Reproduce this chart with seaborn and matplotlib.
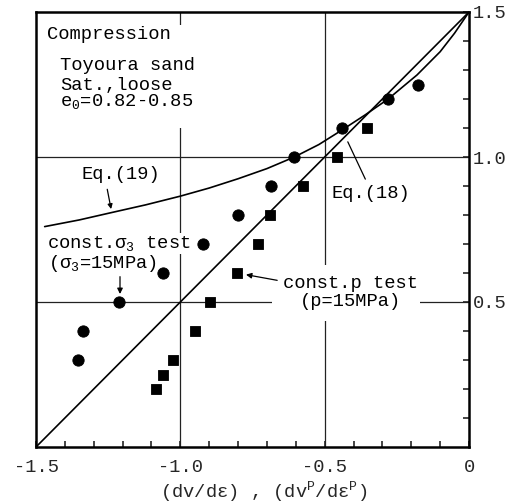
import numpy as np
import pandas as pd
import matplotlib
matplotlib.use("Agg")
import matplotlib.pyplot as plt
from matplotlib.patches import Rectangle
import seaborn as sns

# ---- data ----
circ_x = [-1.353, -1.338, -1.211, -1.059, -0.920, -0.800, -0.687, -0.605, -0.441, -0.280, -0.176]
circ_y = [0.30, 0.40, 0.50, 0.60, 0.70, 0.80, 0.90, 1.00, 1.10, 1.20, 1.25]
sq_x = [-1.085, -1.059, -1.024, -0.949, -0.898, -0.804, -0.730, -0.690, -0.576, -0.456, -0.352]
sq_y = [0.20, 0.25, 0.30, 0.40, 0.50, 0.60, 0.70, 0.80, 0.90, 1.00, 1.10]
eq18_x = [-1.5, 0.0]
eq18_y = [0.0, 1.5]
eq19_x = [-1.47, -1.35, -1.24, -1.12, -1.00, -0.90, -0.80, -0.70, -0.605, -0.52, -0.44, -0.36, -0.28, -0.18, -0.10, -0.05, 0.0]
eq19_y = [0.760, 0.783, 0.808, 0.835, 0.865, 0.893, 0.925, 0.960, 1.000, 1.043, 1.093, 1.145, 1.200, 1.283, 1.363, 1.427, 1.500]
xtick_vals = [-1.5, -1.0, -0.5, 0.0]
xtick_labels = ["-1.5", "-1.0", "-0.5", "0"]
ytick_vals = [0.5, 1.0, 1.5]
ytick_labels = ["0.5", "1.0", "1.5"]

sns.set_style("white")
plt.rcParams["font.family"] = ["Liberation Mono", "DejaVu Sans Mono"]
plt.rcParams["mathtext.fontset"] = "custom"
plt.rcParams["mathtext.rm"] = "Liberation Mono"
plt.rcParams["mathtext.it"] = "Liberation Mono"
plt.rcParams["axes.unicode_minus"] = False

fig = plt.figure(figsize=(5.09, 5.04), dpi=100)
ax = fig.add_axes([36/509, 1-447/504, 433/509, 435/504])
ax.set_xlim(-1.5, 0)
ax.set_ylim(0, 1.5)

# grid lines
for gx in [-1.0, -0.5]:
    ax.axvline(gx, color="#222222", lw=0.9, zorder=1)
for gy in [0.5, 1.0]:
    ax.axhline(gy, color="#222222", lw=0.9, zorder=1)

# white boxes behind text blocks (gaps in grid lines)
ax.add_patch(Rectangle((-1.486, 1.10), 0.57, 0.355, fc="white", ec="none", zorder=2))
ax.add_patch(Rectangle((-0.684, 0.434), 0.514, 0.195, fc="white", ec="none", zorder=2))

df18 = pd.DataFrame({"x": eq18_x, "y": eq18_y})
df19 = pd.DataFrame({"x": eq19_x, "y": eq19_y})
sns.lineplot(data=df18, x="x", y="y", color="black", lw=1.2, sort=False, estimator=None, ax=ax, zorder=3)
sns.lineplot(data=df19, x="x", y="y", color="black", lw=1.2, sort=False, estimator=None, ax=ax, zorder=3)

dfc = pd.DataFrame({"x": circ_x, "y": circ_y})
dfs = pd.DataFrame({"x": sq_x, "y": sq_y})
sns.scatterplot(data=dfc, x="x", y="y", marker="o", s=66, color="black", edgecolor="black", ax=ax, zorder=4)
sns.scatterplot(data=dfs, x="x", y="y", marker="s", s=58, color="black", edgecolor="black", ax=ax, zorder=4)

fs = 13.5
tkw = dict(fontsize=fs, zorder=5, color="black")
ax.text(-1.463, 1.423, "Compression", va="center", ha="left", **tkw)
ax.text(-1.416, 1.317, "Toyoura sand", va="center", ha="left", **tkw)
ax.text(-1.416, 1.248, "Sat.,loose", va="center", ha="left", **tkw)
ax.text(-1.416, 1.190, "e$_0$=0.82-0.85", va="center", ha="left", **tkw)
ax.text(-1.342, 0.941, "Eq.(19)", va="center", ha="left", **tkw)
ax.text(-0.476, 0.875, "Eq.(18)", va="center", ha="left", **tkw)
ax.text(-1.463, 0.702, "const.σ$_3$ test", va="center", ha="left",
        bbox=dict(fc="white", ec="none", pad=0.5), **tkw)
ax.text(-1.457, 0.633, "(σ$_3$=15MPa)", va="center", ha="left", **tkw)
ax.text(-0.643, 0.564, "const.p test", va="center", ha="left", **tkw)
ax.text(-0.586, 0.501, "(p=15MPa)", va="center", ha="left", **tkw)

# leader lines
ax.annotate("", xy=(-1.238, 0.811), xytext=(-1.255, 0.898),
            arrowprops=dict(arrowstyle="-|>", color="black", lw=0.9, mutation_scale=7), zorder=5)
ax.annotate("", xy=(-0.424, 1.061), xytext=(-0.355, 0.915),
            arrowprops=dict(arrowstyle="-", color="black", lw=0.9), zorder=5)
ax.annotate("", xy=(-1.209, 0.518), xytext=(-1.209, 0.597),
            arrowprops=dict(arrowstyle="-|>", color="black", lw=0.9, mutation_scale=8), zorder=5)
ax.annotate("", xy=(-0.782, 0.596), xytext=(-0.655, 0.573),
            arrowprops=dict(arrowstyle="-|>", color="black", lw=0.9, mutation_scale=8), zorder=5)

# axes / ticks
for s in ax.spines.values():
    s.set_visible(True)
    s.set_color("black")
    s.set_linewidth(1.8)
ax.set_xticks(xtick_vals)
ax.set_xticklabels(xtick_labels, fontsize=fs)
ax.set_xticks(np.round(np.arange(-1.4, 0.0, 0.1), 2), minor=True)
ax.yaxis.tick_right()
ax.set_yticks(ytick_vals)
ax.set_yticklabels(ytick_labels, fontsize=fs)
ax.set_yticks(np.round(np.arange(0.1, 1.5, 0.1), 2), minor=True)
ax.tick_params(axis="x", which="both", direction="in", length=4, width=1.2, pad=9, bottom=True, top=False)
ax.tick_params(axis="y", which="both", direction="in", length=4, width=1.2, pad=3, right=True, left=False,
               labelright=True, labelleft=False)
ax.set_ylabel("")
ax.set_xlabel(r"(dv/dε) , (dv$^{\mathrm{P}}$/dε$^{\mathrm{P}}$)", fontsize=fs, va="center")
ax.xaxis.set_label_coords((264-36)/433, -(492-447)/435)

fig.savefig("out.png", dpi=100)
